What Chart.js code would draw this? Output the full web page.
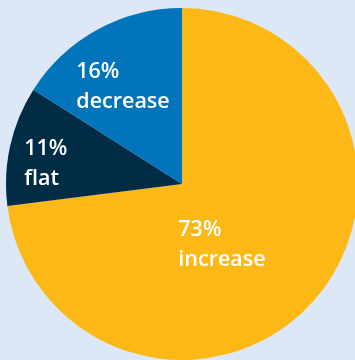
<!DOCTYPE html>
<html>
<head>
<meta charset="utf-8">
<script src="https://cdn.jsdelivr.net/npm/chart.js@4"></script>
<style>
  html, body { margin: 0; padding: 0; background: #dce8f5; overflow: hidden; }
  #wrap { position: absolute; left: 5px; top: 8px; width: 354px; height: 352px; }
</style>
</head>
<body>
<div id="wrap"><canvas id="pie"></canvas></div>
<script>
var labels = ['increase', 'flat', 'decrease']
var values = [73, 11, 16]
var colors = ['#fcb817', '#012c46', '#0274bc']

// where each label block sits: fraction of radius + angle nudge (deg) from slice middle
var labelSpots = [
	{ frac: 0.406, shift: 14.6 },
	{ frac: 0.784, shift: -3.6 },
	{ frac: 0.653, shift: -2.1 }
]

var sliceLabels = {
	id: 'sliceLabels',
	afterDatasetsDraw: function(chart) {
		var ctx = chart.ctx
		var arcs = chart.getDatasetMeta(0).data
		ctx.save()
		ctx.fillStyle = '#ffffff'
		ctx.font = '600 21.5px "Open Sans"'
		ctx.textAlign = 'left'
		ctx.textBaseline = 'alphabetic'
		arcs.forEach(function(arc, i) {
			var p = arc.getProps(['x', 'y', 'startAngle', 'endAngle', 'outerRadius'], true)
			var mid = (p.startAngle + p.endAngle) / 2 + labelSpots[i].shift * Math.PI / 180
			var r = p.outerRadius * labelSpots[i].frac
			var cx = p.x + Math.cos(mid) * r
			var cy = p.y + Math.sin(mid) * r
			var lines = [values[i] + '%', labels[i]]
			var w = Math.max(ctx.measureText(lines[0]).width, ctx.measureText(lines[1]).width)
			var left = cx - w / 2
			ctx.fillText(lines[0], left, cy - 7)
			ctx.fillText(lines[1], left, cy + 23)
		})
		ctx.restore()
	}
}

var chart = new Chart(document.getElementById('pie').getContext('2d'), {
	type: 'pie',
	data: {
		labels: labels,
		datasets: [{
			data: values,
			backgroundColor: colors,
			borderWidth: 0
		}]
	},
	options: {
		responsive: true,
		maintainAspectRatio: false,
		animation: false,
		layout: { padding: 0 },
		plugins: {
			legend: { display: false },
			tooltip: { enabled: false }
		}
	},
	plugins: [sliceLabels]
})
</script>
</body>
</html>
